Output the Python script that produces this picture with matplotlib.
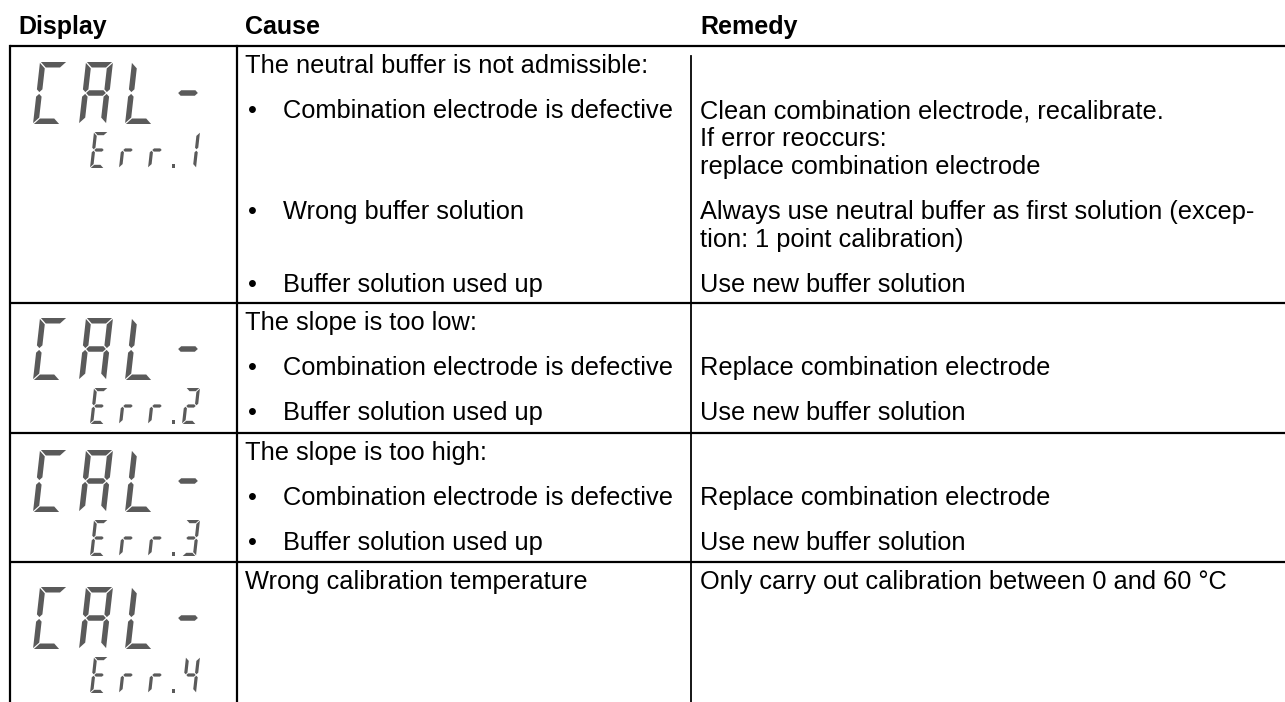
import matplotlib
matplotlib.use("Agg")
import matplotlib.pyplot as plt
from matplotlib.patches import Polygon

# ---- table content ----
HEADERS = ["Display", "Cause", "Remedy"]
DISPLAY_MAIN = ["CAL-", "CAL-", "CAL-", "CAL-"]
DISPLAY_CODE = ["Err.1", "Err.2", "Err.3", "Err.4"]

# each entry: (cause text, is bullet, remedy lines)
ROW_1 = [
    ("The neutral buffer is not admissible:", False, []),
    ("Combination electrode is defective", True,
     ["Clean combination electrode, recalibrate.", "If error reoccurs:",
      "replace combination electrode"]),
    ("Wrong buffer solution", True,
     ["Always use neutral buffer as first solution (excep-",
      "tion: 1 point calibration)"]),
    ("Buffer solution used up", True, ["Use new buffer solution"]),
]
ROW_2 = [
    ("The slope is too low:", False, []),
    ("Combination electrode is defective", True, ["Replace combination electrode"]),
    ("Buffer solution used up", True, ["Use new buffer solution"]),
]
ROW_3 = [
    ("The slope is too high:", False, []),
    ("Combination electrode is defective", True, ["Replace combination electrode"]),
    ("Buffer solution used up", True, ["Use new buffer solution"]),
]
ROW_4 = [
    ("Wrong calibration temperature", False,
     ["Only carry out calibration between 0 and 60 °C"]),
]
ROWS = [ROW_1, ROW_2, ROW_3, ROW_4]

# seven segment map for the LCD glyphs
SEGMENTS = {"C": "adef", "A": "abcefg", "L": "def", "-": "g", "E": "adefg",
            "r": "eg", "1": "bc", "2": "abdeg", "3": "abcdg", "4": "bcfg"}

# ---- layout (pixels) ----
W_PX, H_PX = 1285, 702
FONT = "Liberation Sans"
FS = 18.3
LCD = "#5a5a5a"
ROW_TOPS = [46, 303, 433, 562]
LCD_TOPS = [62, 318, 450, 587]
X_LEFT, X_DISP, X_REM_LINE = 10, 237, 691
X_CAUSE, X_BULLET, X_BTEXT, X_REMEDY = 245, 252, 283, 700
PARA, LINE = 45, 28
LW = 1.6


def seg_shapes(w, h, t, gap):
    k = t / 2
    m = h / 2
    return {
        # outer horizontals: trapezoids with 45 degree cut ends
        "a": [(gap, h), (w - gap, h), (w - t - gap, h - t), (t + gap, h - t)],
        "d": [(gap, 0), (w - gap, 0), (w - t - gap, t), (t + gap, t)],
        # middle: hexagon
        "g": [(k + gap, m), (t + gap, m + k), (w - t - gap, m + k), (w - k - gap, m),
              (w - t - gap, m - k), (t + gap, m - k)],
        # verticals: cut at the outer corner, pointed at the middle
        "f": [(0, h - gap), (t, h - t - gap), (t, m + k + gap), (k, m + gap), (0, m + k + gap)],
        "e": [(0, gap), (t, t + gap), (t, m - k - gap), (k, m - gap), (0, m - k - gap)],
        "b": [(w, h - gap), (w - t, h - t - gap), (w - t, m + k + gap), (w - k, m + gap),
              (w, m + k + gap)],
        "c": [(w, gap), (w - t, t + gap), (w - t, m - k - gap), (w - k, m - gap),
              (w, m - k - gap)],
    }


def draw_glyph(ax, ch, x0, ybot, w, h, t, slant, gap):
    shapes = seg_shapes(w, h, t, gap)
    for s in SEGMENTS.get(ch, ""):
        pts = [(x0 + x + slant * y / h, ybot - y) for x, y in shapes[s]]
        ax.add_patch(Polygon(pts, closed=True, color=LCD, lw=0))


def draw_lcd(ax, text, x0, ybot, pitch, w, h, t, slant, gap, dot_gap=0):
    x = x0
    for ch in text:
        if ch == ".":
            d = t * 1.1
            cx = x + dot_gap / 2 - 6
            ax.add_patch(plt.Rectangle((cx - d / 2, ybot - d), d, d, color=LCD, lw=0))
            x += dot_gap
            continue
        draw_glyph(ax, ch, x, ybot, w, h, t, slant, gap)
        x += pitch


fig = plt.figure(figsize=(W_PX / 100, H_PX / 100), dpi=100)
ax = fig.add_axes([0, 0, 1, 1])
ax.set_xlim(0, W_PX)
ax.set_ylim(H_PX, 0)
ax.axis("off")

# headers
for label, x in zip(HEADERS, [18, X_CAUSE, X_REMEDY]):
    ax.text(x, 34, label, fontsize=FS - 0.3, fontweight="bold", family=FONT,
            va="baseline", ha="left")

# grid lines
for y in ROW_TOPS:
    ax.plot([X_LEFT, W_PX], [y, y], color="black", lw=LW, solid_capstyle="butt")
ax.plot([X_LEFT, X_LEFT], [ROW_TOPS[0], H_PX], color="black", lw=LW)
ax.plot([X_DISP, X_DISP], [ROW_TOPS[0], H_PX], color="black", lw=LW)
ax.plot([X_REM_LINE, X_REM_LINE], [ROW_TOPS[0] + 10, H_PX], color="black", lw=LW * 0.8)

# rows
for row, top, lcd_top, main, code in zip(ROWS, ROW_TOPS, LCD_TOPS, DISPLAY_MAIN, DISPLAY_CODE):
    big_bot = lcd_top + 62
    draw_lcd(ax, main, 33, big_bot, 46, 27, 62, 5.5, 7, 0.9)
    small_bot = big_bot + 8 + 36
    draw_lcd(ax, code, 90, small_bot, 29, 14, 36, 3.2, 4, 0.7, dot_gap=5)

    y = top + 27
    for cause, bullet, remedy in row:
        if bullet:
            ax.text(X_BULLET, y, "\u2022", fontsize=FS, family=FONT, va="baseline", ha="center")
            ax.text(X_BTEXT, y, cause, fontsize=FS, family=FONT, va="baseline")
        else:
            ax.text(X_CAUSE, y, cause, fontsize=FS, family=FONT, va="baseline")
        for i, line in enumerate(remedy):
            ax.text(X_REMEDY, y + i * LINE, line, fontsize=FS, family=FONT, va="baseline")
        y += PARA + LINE * max(len(remedy) - 1, 0)

fig.savefig("out.png", dpi=100)
